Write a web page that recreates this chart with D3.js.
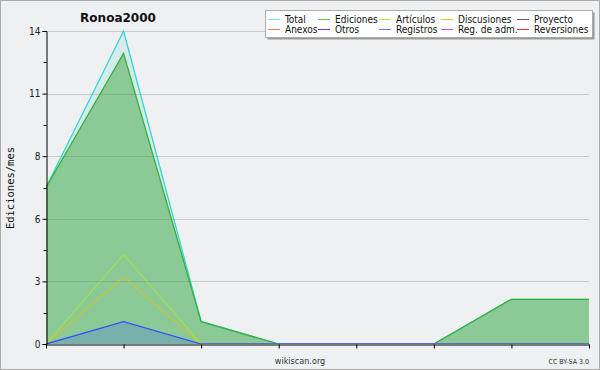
<!DOCTYPE html>
<html><head><meta charset="utf-8">
<script src="https://cdn.jsdelivr.net/npm/d3@7"></script>
<style>body{margin:0;background:#fff;}svg{display:block;}</style>
</head><body><svg id="c" width="600" height="370"></svg>
<script>
const months = [0,1,2,3,4,5,6,7];
const total = [7,14,1,0,0,0,2,2];
const ediciones = [7,13,1,0,0,0,2,2];
const articulos = [0,4,0,0,0,0,0,0];
const discusiones = [0,3,0,0,0,0,0,0];
const registros = [0,1,0,0,0,0,0,0];
const yTicks = [0,2.8,5.6,8.4,11.2,14];
const legendNames = ["Total","Ediciones","Artículos","Discusiones","Proyecto","Anexos","Otros","Registros","Reg. de adm.","Reversiones"];
const legendColors = ["#7fe0e0","#60c060","#b0f030","#f0c020","#606060","#f08040","#8030e0","#7070ff","#e040f0","#f03030"];

const svg = d3.select("#c");
const W=600,H=370, L=46, R=589, T=31, B=344;
svg.append("rect").attr("x",0.5).attr("y",0.5).attr("width",W-1).attr("height",H-1).attr("fill","#eff0f2").attr("stroke","#aaaaaa");
const x = d3.scaleLinear().domain([0,7]).range([L,R]);
const y = d3.scaleLinear().domain([0,14]).range([B,T]);

svg.append("defs").append("clipPath").attr("id","clip").append("rect")
  .attr("x",L).attr("y",T-5).attr("width",R-L+2).attr("height",B-T+5);

// grid
svg.append("g").selectAll("line").data(yTicks.slice(1)).join("line")
  .attr("x1",L).attr("x2",R).attr("y1",d=>Math.round(y(d))+0.5).attr("y2",d=>Math.round(y(d))+0.5)
  .attr("stroke","#c8c8c8").attr("stroke-width",1);

const area = arr => d3.area().x((d,i)=>x(i)).y0(y(0)).y1(d=>y(d))(arr);
const line = arr => d3.line().x((d,i)=>x(i)).y(d=>y(d))(arr);

const pg = svg.append("g").attr("clip-path","url(#clip)");
pg.append("path").attr("d",area(total)).attr("fill","#40d0c0").attr("fill-opacity",0.15);
pg.append("path").attr("d",area(ediciones)).attr("fill","#30a030").attr("fill-opacity",0.45);
pg.append("path").attr("d",area(registros)).attr("fill","#3050ff").attr("fill-opacity",0.2);

pg.append("path").attr("d",line(total)).attr("fill","none").attr("stroke","#30d8d0").attr("stroke-width",1.3);
pg.append("path").attr("d",line(ediciones)).attr("fill","none").attr("stroke","#38b038").attr("stroke-width",1.3);
pg.append("path").attr("d",line(articulos)).attr("fill","none").attr("stroke","#a8f020").attr("stroke-width",1);
pg.append("path").attr("d",line(discusiones)).attr("fill","none").attr("stroke","#f0c000").attr("stroke-width",1);
pg.append("path").attr("d",line(registros)).attr("fill","none").attr("stroke","#3050ff").attr("stroke-width",1.3);

// axes
const yAxis = d3.axisLeft(y).tickValues(yTicks).tickFormat(d=>Math.round(d)).tickSize(4).tickPadding(2);
const gy = svg.append("g").attr("transform",`translate(${L+0.5},0)`).call(yAxis);
gy.selectAll("text").attr("font-family","DejaVu Sans Condensed, DejaVu Sans").attr("font-size",10).attr("fill","#222");
gy.select(".domain").attr("stroke","#000");
const minor = d3.range(0,14.01,1.4).filter(v=>!yTicks.some(t=>Math.abs(t-v)<0.01));
gy.append("g").selectAll("line").data(minor).join("line").attr("x1",-3).attr("x2",0)
  .attr("y1",d=>Math.round(y(d))+0.5).attr("y2",d=>Math.round(y(d))+0.5).attr("stroke","#000");

const xAxis = d3.axisBottom(x).tickValues(months).tickFormat("").tickSize(4).tickSizeOuter(0);
const gx = svg.append("g").attr("transform",`translate(0,${B+0.5})`).call(xAxis);
gx.select(".domain").attr("stroke","#000");

svg.append("text").attr("x",118).attr("y",22).attr("text-anchor","middle").attr("font-family","DejaVu Sans").attr("font-weight","bold").attr("font-size",12).attr("fill","#111").text("Ronoa2000");
svg.append("text").attr("transform","translate(14,188) rotate(-90)").attr("text-anchor","middle").attr("font-family","DejaVu Sans Mono, DejaVu Sans").attr("font-size",10.5).attr("fill","#111").text("Ediciones/mes");
svg.append("text").attr("x",300).attr("y",364).attr("text-anchor","middle").attr("font-family","DejaVu Sans Condensed, DejaVu Sans").attr("font-size",9).attr("fill","#333").text("wikiscan.org");
svg.append("text").attr("x",589).attr("y",364).attr("text-anchor","end").attr("font-family","DejaVu Sans Condensed, DejaVu Sans").attr("font-size",7).attr("fill","#333").text("CC BY-SA 3.0");

// legend
const lg = svg.append("g");
lg.append("rect").attr("x",267.5).attr("y",12.5).attr("width",327).attr("height",27).attr("fill","#999");
lg.append("rect").attr("x",265.5).attr("y",10.5).attr("width",327).attr("height",27).attr("fill","#fff").attr("stroke","#aaa");
const colX = [268,318,379,441,517];
legendNames.forEach((n,i)=>{
  const cx = colX[i%5], cy = i<5?19:29;
  lg.append("line").attr("x1",cx).attr("x2",cx+12).attr("y1",cy+0.5).attr("y2",cy+0.5).attr("stroke",legendColors[i]);
  lg.append("text").attr("x",cx+17).attr("y",cy+3.5).attr("font-family","DejaVu Sans Condensed, DejaVu Sans").attr("font-size",10).attr("fill","#111").text(n);
});
</script></body></html>
